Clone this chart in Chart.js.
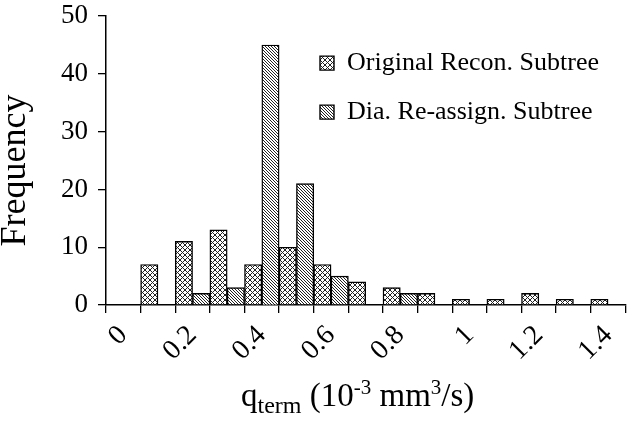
<!DOCTYPE html>
<html>
<head>
<meta charset="utf-8">
<script src="https://cdn.jsdelivr.net/npm/chart.js@4.4.1/dist/chart.umd.min.js"></script>
<style>
    html, body { margin: 0; padding: 0; background: #fff; }
    #wrap { width: 638px; height: 421px; }
</style>
</head>
<body>
<div id="wrap"><canvas id="histChart" width="638" height="421"></canvas></div>
<script>
const binLabels = ['0', '0.1', '0.2', '0.3', '0.4', '0.5', '0.6', '0.7', '0.8', '0.9', '1', '1.1', '1.2', '1.3', '1.4'];
const originalCounts = [0, 7, 11, 13, 7, 10, 7, 4, 3, 2, 1, 1, 2, 1, 1];
const reassignCounts = [0, 0, 2, 3, 45, 21, 5, 0, 2, 0, 0, 0, 0, 0, 0];
const seriesNames = ['Original Recon. Subtree', 'Dia. Re-assign. Subtree'];
const yTitle = 'Frequency';

const serif = "'Liberation Serif', 'Times New Roman', serif";
const ctx = document.getElementById('histChart').getContext('2d');

function makePattern(size, draw) {
    const c = document.createElement('canvas');
    c.width = c.height = size;
    const g = c.getContext('2d');
    g.fillStyle = '#fff';
    g.fillRect(0, 0, size, size);
    g.strokeStyle = '#222';
    g.lineWidth = 1;
    draw(g, size);
    return ctx.createPattern(c, 'repeat');
}

// crosshatch for the original tree, dense "\" hatch for the re-assigned one
const crossHatch = makePattern(5, (g, s) => {
    g.beginPath();
    g.moveTo(0, 0); g.lineTo(s, s);
    g.moveTo(s, 0); g.lineTo(0, s);
    g.stroke();
});
const diagHatch = makePattern(3, (g, s) => {
    g.beginPath();
    g.moveTo(-1, -1); g.lineTo(s + 1, s + 1);
    g.moveTo(-1, s - 1); g.lineTo(1, s + 1);
    g.moveTo(s - 1, -1); g.lineTo(s + 1, 1);
    g.stroke();
});

// put the vertical legend inside the plot, upper right
const legendPlacer = {
    id: 'legendPlacer',
    afterLayout(chart) {
        chart.legend.left = chart.chartArea.left + 191;
        chart.legend.top = chart.chartArea.top + 11;
    }
};

// axis titles drawn by hand: the x one needs sub/superscripts
const axisTitles = {
    id: 'axisTitles',
    afterDraw(chart) {
        const c = chart.ctx;
        const area = chart.chartArea;
        const big = 33;
        const parts = [
            { t: 'q', size: big, dy: 0 },
            { t: 'term', size: 24, dy: 7 },
            { t: ' (10', size: big, dy: 0 },
            { t: '-3', size: 21, dy: -12 },
            { t: ' mm', size: big, dy: 0 },
            { t: '3', size: 21, dy: -12 },
            { t: '/s)', size: big, dy: 0 }
        ];
        c.save();
        c.fillStyle = '#000';
        c.textBaseline = 'alphabetic';
        c.textAlign = 'left';
        let total = 0;
        parts.forEach(p => { c.font = p.size + 'px ' + serif; p.w = c.measureText(p.t).width; total += p.w; });
        let x = (area.left + area.right) / 2 - total / 2 - 8;
        const y = 406;
        parts.forEach(p => {
            c.font = p.size + 'px ' + serif;
            c.fillText(p.t, x, y + p.dy);
            x += p.w;
        });

        c.translate(16, (area.top + area.bottom) / 2 + 10);
        c.rotate(-Math.PI / 2);
        c.textAlign = 'center';
        c.textBaseline = 'middle';
        c.font = '36px ' + serif;
        c.fillText(yTitle, 0, 0);
        c.restore();
    }
};

new Chart(ctx, {
    type: 'bar',
    data: {
        labels: binLabels,
        datasets: [
            { label: seriesNames[0], data: originalCounts, backgroundColor: crossHatch, borderColor: '#000', borderWidth: 1.4 },
            { label: seriesNames[1], data: reassignCounts, backgroundColor: diagHatch, borderColor: '#000', borderWidth: 1.4 }
        ]
    },
    options: {
        responsive: false,
        animation: false,
        categoryPercentage: 1.0,
        barPercentage: 1.0,
        layout: { padding: { top: 0, right: 5, bottom: 0, left: 0 } },
        scales: {
            x: {
                offset: true,
                afterFit: scale => { scale.height = 116; },
                grid: { offset: true, drawOnChartArea: false, drawTicks: true, tickLength: 8, color: '#000', lineWidth: 1.3 },
                border: { color: '#000', width: 1.5 },
                ticks: {
                    autoSkip: false,
                    maxRotation: 45,
                    minRotation: 45,
                    padding: 6,
                    color: '#000',
                    font: { family: serif, size: 28 },
                    callback: (v, i) => i % 2 === 0 ? binLabels[i] : ''
                }
            },
            y: {
                min: 0,
                max: 50,
                afterFit: scale => { scale.width = 106; },
                grid: { drawOnChartArea: false, drawTicks: true, tickLength: 8, color: '#000', lineWidth: 1.3 },
                border: { color: '#000', width: 1.5 },
                ticks: { stepSize: 10, padding: 10, color: '#000', font: { family: serif, size: 27, lineHeight: 0.45 } }
            }
        },
        plugins: {
            legend: {
                position: 'chartArea',
                align: 'start',
                labels: { color: '#000', font: { family: serif, size: 26 }, boxWidth: 14, boxHeight: 14, padding: 23 }
            },
            tooltip: { enabled: false }
        }
    },
    plugins: [legendPlacer, axisTitles]
});
</script>
</body>
</html>
